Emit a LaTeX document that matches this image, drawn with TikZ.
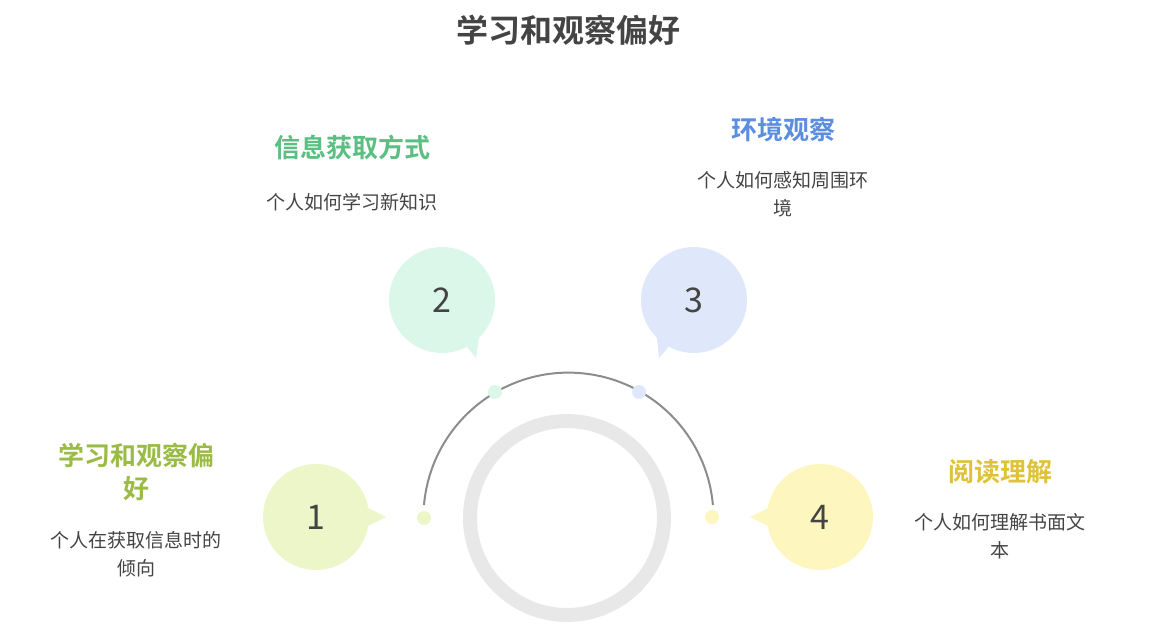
\documentclass[tikz,border=0pt]{standalone}
\usepackage{fontspec}
\setmainfont{Noto Sans CJK SC}
\newfontfamily\cjk{Noto Sans CJK SC}
\newfontfamily\cjkb{Noto Sans CJK SC Bold}
\definecolor{txt}{HTML}{444444}
\definecolor{cA}{HTML}{EDF6C8}\definecolor{cB}{HTML}{DAF7EA}
\definecolor{cC}{HTML}{DFE8FB}\definecolor{cD}{HTML}{FDF6BE}
\definecolor{hA}{HTML}{9BBB47}\definecolor{hB}{HTML}{5BBF82}
\definecolor{hC}{HTML}{5B8DE0}\definecolor{hD}{HTML}{DFC23A}
\tikzset{
 head/.style={font=\cjkb\fontsize{26}{33}\selectfont,align=center},
 body/.style={font=\cjk\fontsize{19}{28}\selectfont,text=txt,align=center},
 num/.style={font=\cjk\fontsize{34}{34}\selectfont,text=txt},
 dot/.style={circle,minimum size=14,inner sep=0}
}
\begin{document}
\begin{tikzpicture}[x=1pt,y=-1pt]
\useasboundingbox (0,0) rectangle (1168,644);
\node[font=\cjkb\fontsize{32}{36}\selectfont,text=txt] (title) at (568,30) {学习和观察偏好};
\draw[line width=14,color=black!9] (567,518) circle (97);
\draw[line width=2,color=black!45] (424,505) arc[start angle=185,end angle=355,radius=145];
% bubbles
\fill[cA] (316,517) circle (53); \fill[cA] (362,505)--(386,517)--(362,529)--cycle;
\fill[cB] (442,300) circle (53); \fill[cB] (458,336)--(476,358)--(480,330)--cycle;
\fill[cC] (694,300) circle (53); \fill[cC] (678,336)--(659,358)--(656,330)--cycle;
\fill[cD] (820,517) circle (53); \fill[cD] (774,505)--(750,517)--(774,529)--cycle;
\node[num] (n1) at (316,517) {1};
\node[num] (n2) at (442,300) {2};
\node[num] (n3) at (694,300) {3};
\node[num] (n4) at (820,517) {4};
\node[dot,fill=cA] (d1) at (424,518) {};
\node[dot,fill=cB] (d2) at (495,392) {};
\node[dot,fill=cC] (d3) at (639,392) {};
\node[dot,fill=cD] (d4) at (712,517) {};
\node[head,text=hA] (h1) at (136,472) {学习和观察偏\\好};
\node[body] (b1) at (136,554) {个人在获取信息时的\\倾向};
\node[head,text=hB] (h2) at (352,148) {信息获取方式};
\node[body] (b2) at (352,202) {个人如何学习新知识};
\node[head,text=hC] (h3) at (783,130) {环境观察};
\node[body] (b3) at (783,194) {个人如何感知周围环\\境};
\node[head,text=hD] (h4) at (1000,472) {阅读理解};
\node[body] (b4) at (1000,536) {个人如何理解书面文\\本};
\end{tikzpicture}
\end{document}
